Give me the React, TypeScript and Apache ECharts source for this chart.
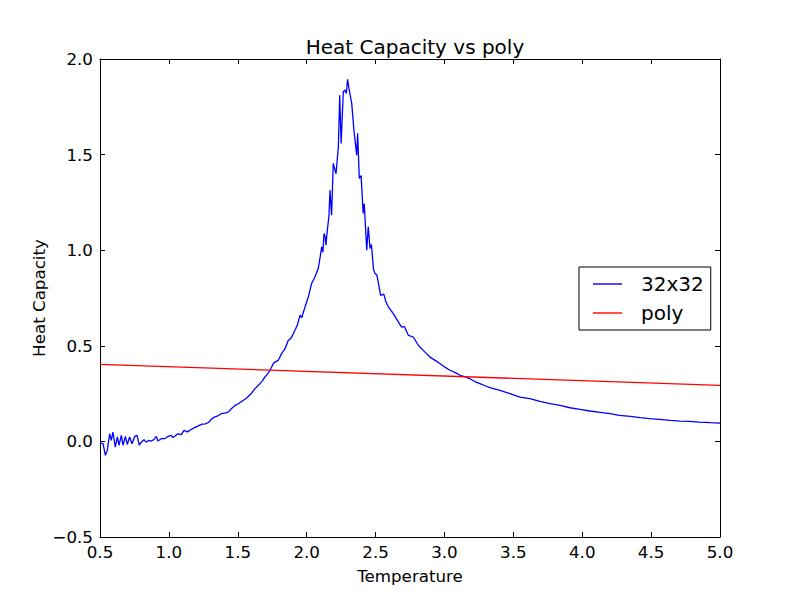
import React, { useEffect, useRef } from "react";
import * as echarts from "echarts";

const temperatures: number[] = [
  0.5, 0.505, 0.522, 0.539, 0.553, 0.57, 0.582, 0.594, 0.611, 0.626, 0.638, 0.655, 0.667, 0.684, 0.698,
  0.715, 0.732, 0.752, 0.769, 0.785, 0.8, 0.819, 0.836, 0.853, 0.872, 0.89, 0.909, 0.92, 0.945, 0.969,
  0.993, 1.017, 1.03, 1.066, 1.09, 1.11, 1.135, 1.158, 1.187, 1.21, 1.24, 1.265, 1.29, 1.31, 1.33,
  1.355, 1.38, 1.405, 1.43, 1.455, 1.48, 1.505, 1.53, 1.555, 1.576, 1.6, 1.625, 1.645, 1.661, 1.68,
  1.697, 1.715, 1.734, 1.758, 1.77, 1.794, 1.818, 1.843, 1.867, 1.88, 1.891, 1.915, 1.932, 1.952, 1.964,
  1.988, 2.012, 2.036, 2.06, 2.084, 2.1, 2.109, 2.118, 2.126, 2.134, 2.14, 2.15, 2.162, 2.169, 2.181,
  2.193, 2.213, 2.23, 2.24, 2.25, 2.266, 2.278, 2.288, 2.297, 2.307, 2.327, 2.343, 2.363, 2.37, 2.382,
  2.395, 2.41, 2.418, 2.436, 2.447, 2.46, 2.47, 2.485, 2.496, 2.51, 2.537, 2.56, 2.575, 2.593, 2.629,
  2.665, 2.689, 2.71, 2.738, 2.774, 2.81, 2.822, 2.859, 2.895, 2.93, 2.967, 3.0, 3.04, 3.08, 3.113,
  3.15, 3.185, 3.22, 3.258, 3.295, 3.33, 3.403, 3.476, 3.548, 3.62, 3.693, 3.766, 3.838, 3.911, 3.983,
  4.056, 4.13, 4.2, 4.27, 4.35, 4.42, 4.49, 4.56, 4.64, 4.71, 4.78, 4.85, 4.93, 5.0,
];

const heatCapacity: number[] = [
  -0.005, -0.009, -0.012, -0.073, -0.047, 0.04, 0.005, 0.049, -0.03, 0.023, -0.02, 0.031, -0.02, 0.026, -0.016,
  0.023, -0.012, 0.026, 0.031, -0.02, -0.004, 0.009, -0.004, 0.005, 0.002, 0.009, 0.026, 0.002, 0.014, 0.014,
  0.026, 0.031, 0.02, 0.04, 0.035, 0.058, 0.05, 0.061, 0.072, 0.08, 0.09, 0.092, 0.1, 0.118, 0.127,
  0.133, 0.145, 0.148, 0.153, 0.172, 0.188, 0.197, 0.21, 0.222, 0.235, 0.252, 0.276, 0.29, 0.302, 0.318,
  0.337, 0.352, 0.372, 0.407, 0.415, 0.424, 0.459, 0.485, 0.529, 0.535, 0.546, 0.581, 0.607, 0.66, 0.647,
  0.703, 0.755, 0.826, 0.86, 0.904, 0.974, 1.017, 0.99, 1.087, 1.07, 1.026, 1.105, 1.18, 1.314, 1.183,
  1.454, 1.4, 1.541, 1.81, 1.558, 1.829, 1.838, 1.82, 1.894, 1.846, 1.768, 1.628, 1.497, 1.611, 1.375,
  1.39, 1.192, 1.244, 1.0, 1.122, 1.009, 1.03, 0.9, 0.878, 0.87, 0.764, 0.77, 0.73, 0.703, 0.668,
  0.625, 0.598, 0.6, 0.555, 0.546, 0.503, 0.494, 0.467, 0.441, 0.425, 0.407, 0.39, 0.372, 0.36, 0.346,
  0.337, 0.328, 0.313, 0.302, 0.291, 0.281, 0.267, 0.25, 0.232, 0.224, 0.209, 0.197, 0.188, 0.176, 0.168,
  0.159, 0.152, 0.145, 0.136, 0.131, 0.124, 0.119, 0.115, 0.11, 0.106, 0.105, 0.101, 0.098, 0.096,
];

const polyT: number[] = [0.5, 5.0];
const polyC: number[] = [0.403, 0.293];

const xTicks = { min: 0.5, max: 5.0, interval: 0.5 };
const yTicks = { min: -0.5, max: 2.0, interval: 0.5 };

const FONT = "DejaVu Sans";

const fmt = (v: number) => {
  const s = Math.abs(v).toFixed(1);
  return v < -1e-9 ? "\u2212" + s : s;
};

export default function App() {
  const ref = useRef<HTMLDivElement>(null);
  useEffect(() => {
    if (!ref.current) return;
    const chart = echarts.init(ref.current, undefined, { renderer: "svg" });
    const axisLine = { show: true, onZero: false, lineStyle: { color: "#000", width: 1 } };
    const tick = { show: true, inside: true, length: 5, lineStyle: { color: "#000", width: 1 } };
    const labelStyle = { color: "#000", fontFamily: FONT, fontSize: 16.7 };
    chart.setOption({
      animation: false,
      backgroundColor: "#fff",
      title: {
        text: "Heat Capacity vs poly",
        left: 410,
        top: 32,
        textAlign: "center",
        textStyle: { color: "#000", fontFamily: FONT, fontSize: 20, fontWeight: "normal" },
      },
      grid: { left: 100, right: 80, top: 59, bottom: 60, containLabel: false },
      legend: {
        data: ["32x32", "poly"],
        orient: "vertical",
        left: 579,
        top: 267,
        icon: "rect",
        itemWidth: 29,
        itemHeight: 1.4,
        itemGap: 9,
        padding: [7, 7, 7, 14],
        borderColor: "#000",
        borderWidth: 1,
        backgroundColor: "#fff",
        textStyle: { color: "#000", fontFamily: FONT, fontSize: 20, lineHeight: 20, padding: [0, 0, 0, 14] },
      },
      xAxis: [
        {
          type: "value",
          ...xTicks,
          position: "bottom",
          axisLine,
          axisTick: tick,
          splitLine: { show: false },
          axisLabel: { ...labelStyle, margin: 6, formatter: fmt },
          name: "Temperature",
          nameLocation: "middle",
          nameGap: 30,
          nameMoveOverlap: false,
          nameTextStyle: { color: "#000", fontFamily: FONT, fontSize: 16.7 },
        },
        {
          type: "value",
          ...xTicks,
          position: "top",
          axisLine,
          axisTick: tick,
          splitLine: { show: false },
          axisLabel: { show: false },
        },
      ],
      yAxis: [
        {
          type: "value",
          ...yTicks,
          position: "left",
          axisLine,
          axisTick: tick,
          splitLine: { show: false },
          axisLabel: { ...labelStyle, margin: 7, formatter: fmt },
          name: "Heat Capacity",
          nameLocation: "middle",
          nameGap: 53,
          nameMoveOverlap: false,
          nameTextStyle: { color: "#000", fontFamily: FONT, fontSize: 16.7 },
        },
        {
          type: "value",
          ...yTicks,
          position: "right",
          axisLine,
          axisTick: tick,
          splitLine: { show: false },
          axisLabel: { show: false },
        },
      ],
      series: [
        {
          name: "32x32",
          type: "line",
          data: temperatures.map((t, i) => [t, heatCapacity[i]]),
          showSymbol: false,
          symbol: "none",
          lineStyle: { color: "#0000ff", width: 1.3 },
          itemStyle: { color: "#0000ff" },
          xAxisIndex: 0,
          yAxisIndex: 0,
          z: 2,
        },
        {
          name: "poly",
          type: "line",
          data: polyT.map((t, i) => [t, polyC[i]]),
          showSymbol: false,
          symbol: "none",
          lineStyle: { color: "#ff0000", width: 1.3 },
          itemStyle: { color: "#ff0000" },
          xAxisIndex: 0,
          yAxisIndex: 0,
          z: 3,
        },
      ],
    });
    return () => chart.dispose();
  }, []);
  return (
    <div
      ref={ref}
      style={{ position: "absolute", left: 0, top: 0, width: 800, height: 597, background: "#fff" }}
    />
  );
}
